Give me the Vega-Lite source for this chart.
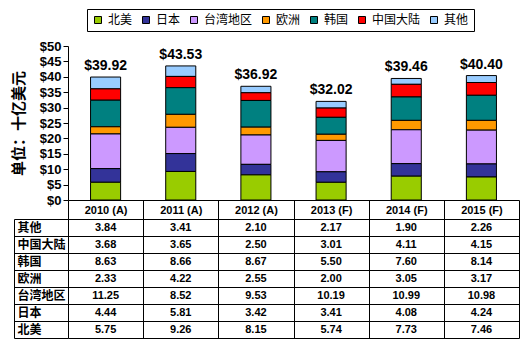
{
  "$schema": "https://vega.github.io/schema/vega-lite/v6.json",
  "background": "white",
  "padding": {"left": 11, "top": 8, "right": 10, "bottom": 4},
  "bounds": "flush",
  "spacing": 19,
  "config": {"view": {"stroke": null}, "font": "Liberation Sans"},
  "data": {"values": [
    {"year": "2010 (A)", "region": "其他", "value": 3.84},
    {"year": "2011 (A)", "region": "其他", "value": 3.41},
    {"year": "2012 (A)", "region": "其他", "value": 2.10},
    {"year": "2013 (F)", "region": "其他", "value": 2.17},
    {"year": "2014 (F)", "region": "其他", "value": 1.90},
    {"year": "2015 (F)", "region": "其他", "value": 2.26},
    {"year": "2010 (A)", "region": "中国大陆", "value": 3.68},
    {"year": "2011 (A)", "region": "中国大陆", "value": 3.65},
    {"year": "2012 (A)", "region": "中国大陆", "value": 2.50},
    {"year": "2013 (F)", "region": "中国大陆", "value": 3.01},
    {"year": "2014 (F)", "region": "中国大陆", "value": 4.11},
    {"year": "2015 (F)", "region": "中国大陆", "value": 4.15},
    {"year": "2010 (A)", "region": "韩国", "value": 8.63},
    {"year": "2011 (A)", "region": "韩国", "value": 8.66},
    {"year": "2012 (A)", "region": "韩国", "value": 8.67},
    {"year": "2013 (F)", "region": "韩国", "value": 5.50},
    {"year": "2014 (F)", "region": "韩国", "value": 7.60},
    {"year": "2015 (F)", "region": "韩国", "value": 8.14},
    {"year": "2010 (A)", "region": "欧洲", "value": 2.33},
    {"year": "2011 (A)", "region": "欧洲", "value": 4.22},
    {"year": "2012 (A)", "region": "欧洲", "value": 2.55},
    {"year": "2013 (F)", "region": "欧洲", "value": 2.00},
    {"year": "2014 (F)", "region": "欧洲", "value": 3.05},
    {"year": "2015 (F)", "region": "欧洲", "value": 3.17},
    {"year": "2010 (A)", "region": "台湾地区", "value": 11.25},
    {"year": "2011 (A)", "region": "台湾地区", "value": 8.52},
    {"year": "2012 (A)", "region": "台湾地区", "value": 9.53},
    {"year": "2013 (F)", "region": "台湾地区", "value": 10.19},
    {"year": "2014 (F)", "region": "台湾地区", "value": 10.99},
    {"year": "2015 (F)", "region": "台湾地区", "value": 10.98},
    {"year": "2010 (A)", "region": "日本", "value": 4.44},
    {"year": "2011 (A)", "region": "日本", "value": 5.81},
    {"year": "2012 (A)", "region": "日本", "value": 3.42},
    {"year": "2013 (F)", "region": "日本", "value": 3.41},
    {"year": "2014 (F)", "region": "日本", "value": 4.08},
    {"year": "2015 (F)", "region": "日本", "value": 4.24},
    {"year": "2010 (A)", "region": "北美", "value": 5.75},
    {"year": "2011 (A)", "region": "北美", "value": 9.26},
    {"year": "2012 (A)", "region": "北美", "value": 8.15},
    {"year": "2013 (F)", "region": "北美", "value": 5.74},
    {"year": "2014 (F)", "region": "北美", "value": 7.73},
    {"year": "2015 (F)", "region": "北美", "value": 7.46}
  ]},
  "vconcat": [
    {
      "width": 451,
      "height": 154,
      "layer": [
        {
          "transform": [{"calculate": "indexof(['北美', '日本', '台湾地区', '欧洲', '韩国', '中国大陆', '其他'], datum.region)", "as": "stackOrder"}],
          "mark": {"type": "bar", "stroke": "black", "strokeWidth": 1},
          "encoding": {
            "x": {"field": "year", "type": "nominal",
              "scale": {"paddingInner": 0.6, "paddingOuter": 0.3},
              "axis": {"labels": false, "ticks": false, "title": null, "domainColor": "black"}},
            "y": {"field": "value", "type": "quantitative", "stack": "zero",
              "scale": {"domain": [0, 50], "nice": false},
              "axis": {"title": "单位：十亿美元", "titleFont": "Noto Sans CJK SC", "titleFontSize": 15, "titleFontWeight": "bold", "titleColor": "black", "titlePadding": 13,
                "values": [0, 5, 10, 15, 20, 25, 30, 35, 40, 45, 50], "format": "$.0f", "labelOverlap": false,
                "labelFont": "Liberation Sans", "labelFontSize": 13, "labelFontWeight": "bold", "labelColor": "black", "labelPadding": 2,
                "tickColor": "black", "tickSize": 5, "domainColor": "black", "grid": false}},
            "order": {"field": "stackOrder", "type": "quantitative", "sort": "ascending"},
            "color": {"field": "region", "type": "nominal",
              "sort": ["北美", "日本", "台湾地区", "欧洲", "韩国", "中国大陆", "其他"],
              "scale": {"domain": ["北美", "日本", "台湾地区", "欧洲", "韩国", "中国大陆", "其他"],
                "range": ["#99CC00", "#333399", "#CC99FF", "#FF9900", "#008080", "#FF0000", "#99CCFF"]},
              "legend": {"orient": "none", "legendX": 19, "legendY": -37, "direction": "horizontal", "columns": 7, "title": null,
                "strokeColor": "black", "fillColor": "white", "padding": 5,
                "symbolType": "square", "symbolSize": 49, "symbolStrokeColor": "black", "symbolStrokeWidth": 1,
                "labelFont": "Noto Sans CJK SC", "labelFontSize": 12, "labelColor": "black", "labelOffset": 4, "columnPadding": 7}}
          }
        },
        {
          "mark": {"type": "text", "baseline": "bottom", "dy": -4, "font": "Liberation Sans", "fontSize": 14, "fontWeight": "bold", "color": "black"},
          "encoding": {
            "x": {"field": "year", "type": "nominal",
              "axis": {"labels": false, "ticks": false, "title": null, "domainColor": "black"}},
            "y": {"field": "value", "type": "quantitative", "aggregate": "sum",
              "axis": {"title": "单位：十亿美元", "titleFont": "Noto Sans CJK SC", "titleFontSize": 15, "titleFontWeight": "bold", "titleColor": "black", "titlePadding": 13,
                "values": [0, 5, 10, 15, 20, 25, 30, 35, 40, 45, 50], "format": "$.0f", "labelOverlap": false,
                "labelFont": "Liberation Sans", "labelFontSize": 13, "labelFontWeight": "bold", "labelColor": "black", "labelPadding": 2,
                "tickColor": "black", "tickSize": 5, "domainColor": "black", "grid": false}},
            "text": {"field": "value", "type": "quantitative", "aggregate": "sum", "format": "$.2f"}
          }
        }
      ]
    },
    {
      "width": 451,
      "height": 119,
      "mark": {"type": "text", "font": "Liberation Sans", "fontSize": 11, "fontWeight": "bold", "color": "black"},
      "encoding": {
        "x": {"field": "year", "type": "nominal",
          "scale": {"paddingInner": 0, "paddingOuter": 0},
          "axis": {"orient": "top", "title": null, "tickBand": "extent", "grid": true, "gridColor": "black", "gridOpacity": 1,
            "tickColor": "black", "tickSize": 19, "domainColor": "black", "labelAngle": 0, "labelPadding": -15,
            "labelFont": "Liberation Sans", "labelFontSize": 11, "labelFontWeight": "bold", "labelColor": "black"}},
        "y": {"field": "region", "type": "nominal",
          "sort": ["其他", "中国大陆", "韩国", "欧洲", "台湾地区", "日本", "北美"],
          "scale": {"paddingInner": 0, "paddingOuter": 0},
          "axis": {"title": null, "offset": 54, "tickSize": -54, "tickBand": "extent", "grid": true, "gridColor": "black", "gridOpacity": 1,
            "domainColor": "black", "tickColor": "black", "labelAlign": "left", "labelPadding": 51,
            "labelFont": "Noto Sans CJK SC", "labelFontSize": 12, "labelFontWeight": "bold", "labelColor": "black"}},
        "text": {"field": "value", "type": "quantitative", "format": ".2f"}
      }
    }
  ]
}
